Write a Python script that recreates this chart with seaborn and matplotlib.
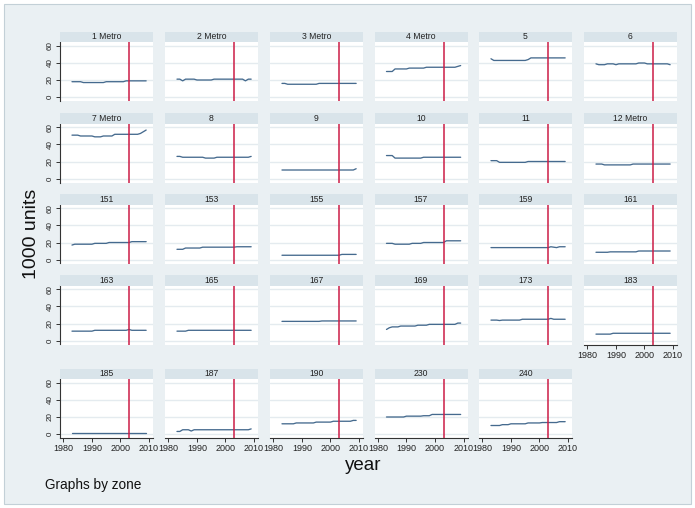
import numpy as np
import pandas as pd
import matplotlib
matplotlib.use("Agg")
import matplotlib.pyplot as plt
from matplotlib.patches import Rectangle
import seaborn as sns

# ---- data: annual housing stock (1000 units) by zone, 1983-2009 ----
years = list(range(1983, 2010))

zone_labels = ["1 Metro", "2 Metro", "3 Metro", "4 Metro", "5", "6",
               "7 Metro", "8", "9", "10", "11", "12 Metro",
               "151", "153", "155", "157", "159", "161",
               "163", "165", "167", "169", "173", "183",
               "185", "187", "190", "230", "240"]

z1 = [18, 18, 18, 18, 17, 17, 17, 17, 17, 17, 17, 17, 18, 18, 18, 18, 18, 18, 18, 19, 19, 19, 19, 19, 19, 19, 19]
z2 = [21, 21, 19, 21, 21, 21, 21, 20, 20, 20, 20, 20, 20, 21, 21, 21, 21, 21, 21, 21, 21, 21, 21, 21, 19, 21, 21]
z3 = [16, 16, 15, 15, 15, 15, 15, 15, 15, 15, 15, 15, 15, 16, 16, 16, 16, 16, 16, 16, 16, 16, 16, 16, 16, 16, 16]
z4 = [30, 30, 30, 33, 33, 33, 33, 33, 34, 34, 34, 34, 34, 34, 35, 35, 35, 35, 35, 35, 35, 35, 35, 35, 35, 36, 37]
z5 = [45, 43, 43, 43, 43, 43, 43, 43, 43, 43, 43, 43, 43, 44, 46, 46, 46, 46, 46, 46, 46, 46, 46, 46, 46, 46, 46]
z6 = [39, 38, 38, 38, 39, 39, 39, 38, 39, 39, 39, 39, 39, 39, 39, 40, 40, 40, 39, 39, 39, 39, 39, 39, 39, 39, 38]
z7 = [51, 51, 51, 50, 50, 50, 50, 50, 49, 49, 49, 50, 50, 50, 50, 52, 52, 52, 52, 52, 52, 52, 52, 52, 53, 55, 57]
z8 = [26, 26, 25, 25, 25, 25, 25, 25, 25, 25, 24, 24, 24, 24, 25, 25, 25, 25, 25, 25, 25, 25, 25, 25, 25, 25, 26]
z9 = [10, 10, 10, 10, 10, 10, 10, 10, 10, 10, 10, 10, 10, 10, 10, 10, 10, 10, 10, 10, 10, 10, 10, 10, 10, 10, 11.5]
z10 = [27, 27, 27, 24, 24, 24, 24, 24, 24, 24, 24, 24, 24, 25, 25, 25, 25, 25, 25, 25, 25, 25, 25, 25, 25, 25, 25]
z11 = [21, 21, 21, 19, 19, 19, 19, 19, 19, 19, 19, 19, 19, 20, 20, 20, 20, 20, 20, 20, 20, 20, 20, 20, 20, 20, 20]
z12 = [17, 17, 17, 16, 16, 16, 16, 16, 16, 16, 16, 16, 16, 17, 17, 17, 17, 17, 17, 17, 17, 17, 17, 17, 17, 17, 17]
z151 = [17, 18, 18, 18, 18, 18, 18, 18, 19, 19, 19, 19, 19, 20, 20, 20, 20, 20, 20, 20, 20, 21, 21, 21, 21, 21, 21]
z153 = [12, 12, 12, 13.5, 13.5, 13.5, 13.5, 13.5, 13.5, 14.5, 14.5, 14.5, 14.5, 14.5, 14.5, 14.5, 14.5, 14.5, 14.5, 14.5, 14.5, 15, 15, 15, 15, 15, 15]
z155 = [5, 5, 5, 5, 5, 5, 5, 5, 5, 5, 5, 5, 5, 5, 5, 5, 5, 5, 5, 5, 5, 6, 6, 6, 6, 6, 6]
z157 = [19, 19, 19, 18, 18, 18, 18, 18, 18, 19, 19, 19, 19, 20, 20, 20, 20, 20, 20, 20, 20, 22, 22, 22, 22, 22, 22]
z159 = [14, 14, 14, 14, 14, 14, 14, 14, 14, 14, 14, 14, 14, 14, 14, 14, 14, 14, 14, 14, 14, 15, 14.5, 14, 15, 15, 15]
z161 = [8.5, 8.5, 8.5, 8.5, 8.5, 9, 9, 9, 9, 9, 9, 9, 9, 9, 9, 10, 10, 10, 10, 10, 10, 10, 10, 10, 10, 10, 10]
z163 = [11, 11, 11, 11, 11, 11, 11, 11, 12, 12, 12, 12, 12, 12, 12, 12, 12, 12, 12, 12, 13, 12, 12, 12, 12, 12, 12]
z165 = [11, 11, 11, 11, 12, 12, 12, 12, 12, 12, 12, 12, 12, 12, 12, 12, 12, 12, 12, 12, 12, 12, 12, 12, 12, 12, 12]
z167 = [22.5, 22.5, 22.5, 22.5, 22.5, 22.5, 22.5, 22.5, 22.5, 22.5, 22.5, 22.5, 22.5, 22.5, 23, 23, 23, 23, 23, 23, 23, 23, 23, 23, 23, 23, 23]
z169 = [13, 15, 16, 16, 16, 17, 17, 17, 17, 17, 17, 18, 18, 18, 18, 19, 19, 19, 19, 19, 19, 19, 19, 19, 19, 20.5, 20.5]
z173 = [24, 24, 24, 23.5, 24, 24, 24, 24, 24, 24, 24, 25, 25, 25, 25, 25, 25, 25, 25, 25, 25, 26, 25, 25, 25, 25, 25]
z183 = [7.5, 7.5, 7.5, 7.5, 7.5, 7.5, 8.5, 8.5, 8.5, 8.5, 8.5, 8.5, 8.5, 8.5, 8.5, 8.5, 8.5, 8.5, 8.5, 8.5, 8.5, 8.5, 8.5, 8.5, 8.5, 8.5, 8.5]
z185 = [1, 1, 1, 1, 1, 1, 1, 1, 1, 1, 1, 1, 1, 1, 1, 1, 1, 1, 1, 1, 1, 1, 1, 1, 1, 1, 1]
z187 = [3, 3, 5, 5, 5, 3.5, 5, 5, 5, 5, 5, 5, 5, 5, 5, 5, 5, 5, 5, 5, 5, 5, 5, 5, 5, 5, 6]
z190 = [12, 12, 12, 12, 12, 13, 13, 13, 13, 13, 13, 13, 14, 14, 14, 14, 14, 14, 15, 15, 15, 15, 15, 15, 15, 16, 16]
z230 = [20, 20, 20, 20, 20, 20, 20, 21, 21, 21, 21, 21, 21, 21.5, 21.5, 21.5, 23, 23, 23, 23, 23, 23, 23, 23, 23, 23, 23]
z240 = [10, 10, 10, 10, 11, 11, 11, 12, 12, 12, 12, 12, 12, 13, 13, 13, 13, 13, 13.5, 13.5, 13.5, 13.5, 13.5, 13.5, 14.5, 14.5, 14.5]

series = [z1, z2, z3, z4, z5, z6, z7, z8, z9, z10, z11, z12,
          z151, z153, z155, z157, z159, z161,
          z163, z165, z167, z169, z173, z183,
          z185, z187, z190, z230, z240]

event_year = 2003
y_ticks = [0, 20, 40, 60]
x_ticks = [1980, 1990, 2000, 2010]

df = pd.concat(
    [pd.DataFrame({"zone": z, "year": years, "units": v}) for z, v in zip(zone_labels, series)],
    ignore_index=True,
)

# ---- styling ----
sns.set_style("white")
plt.rcParams["font.family"] = ["Liberation Sans", "DejaVu Sans"]

W, H = 695, 508
BG = "#eaf0f3"
STRIP = "#d9e4ea"
LINE = "#456a8e"
VLINE = "#cc1d46"
GRID = "#e4ebef"
AXIS = "#333333"

fig = plt.figure(figsize=(W / 100, H / 100), dpi=100)
fig.patch.set_facecolor("white")
fig.patches.append(Rectangle((4 / W, 4 / H), (W - 8) / W, (H - 8) / H,
                             transform=fig.transFigure, facecolor=BG,
                             edgecolor="#c3d0d7", linewidth=0.8, zorder=-10))

col_left = [60, 165, 270, 374.5, 479, 584]
row_top = [42, 123.5, 204.5, 285.5, 379]
pw, ph, strip_h = 93, 59, 10.5
ncols = 6
n = len(zone_labels)

for i, zone in enumerate(zone_labels):
    r, c = divmod(i, ncols)
    x0, y0 = col_left[c], row_top[r]
    ax = fig.add_axes([x0 / W, 1 - (y0 + ph) / H, pw / W, ph / H])
    ax.set_facecolor("white")

    sub = df[df["zone"] == zone]
    sns.lineplot(data=sub, x="year", y="units", ax=ax, color=LINE,
                 linewidth=0.95, legend=False)
    ax.axvline(event_year, color=VLINE, linewidth=1.1, zorder=3)

    ax.set_xlim(1978.8, 2011.4)
    ax.set_ylim(-4.7, 64.7)
    ax.set_yticks(y_ticks)
    ax.set_xticks(x_ticks)
    ax.grid(axis="y", color=GRID, linewidth=1.0)
    ax.grid(axis="x", visible=False)
    ax.set_xlabel("")
    ax.set_ylabel("")
    for s in ax.spines.values():
        s.set_visible(False)

    first_col = c == 0
    bottom = (i + ncols >= n)
    if first_col:
        ax.spines["left"].set_visible(True)
        ax.spines["left"].set_color(AXIS)
        ax.spines["left"].set_linewidth(0.8)
        ax.tick_params(axis="y", left=True, labelleft=True, length=3, width=0.7,
                       color=AXIS, pad=1.5, labelsize=5.8, labelcolor="#222222")
        for lab in ax.get_yticklabels():
            lab.set_rotation(90)
            lab.set_va("center")
    else:
        ax.tick_params(axis="y", left=False, labelleft=False)
    if bottom:
        ax.spines["bottom"].set_visible(True)
        ax.spines["bottom"].set_color(AXIS)
        ax.spines["bottom"].set_linewidth(0.8)
        ax.tick_params(axis="x", bottom=True, labelbottom=True, length=3, width=0.7,
                       color=AXIS, pad=1.5, labelsize=6.5, labelcolor="#222222")
    else:
        ax.tick_params(axis="x", bottom=False, labelbottom=False)

    # strip with panel title
    fig.patches.append(Rectangle((x0 / W, 1 - y0 / H), pw / W, strip_h / H,
                                 transform=fig.transFigure, facecolor=STRIP,
                                 edgecolor="none"))
    fig.text((x0 + pw / 2) / W, 1 - (y0 - strip_h / 2) / H, zone,
             ha="center", va="center", fontsize=6.2, color="#222222")

fig.text(363 / W, 1 - 466 / H, "year", ha="center", va="center",
         fontsize=13.5, color="#111111")
fig.text(31 / W, 1 - 234 / H, "1000 units", ha="center", va="center",
         rotation=90, fontsize=14, color="#111111")
fig.text(45 / W, 1 - 485 / H, "Graphs by zone", ha="left", va="center",
         fontsize=9.8, color="#111111")

fig.savefig("out.png", dpi=100, facecolor=fig.get_facecolor())
